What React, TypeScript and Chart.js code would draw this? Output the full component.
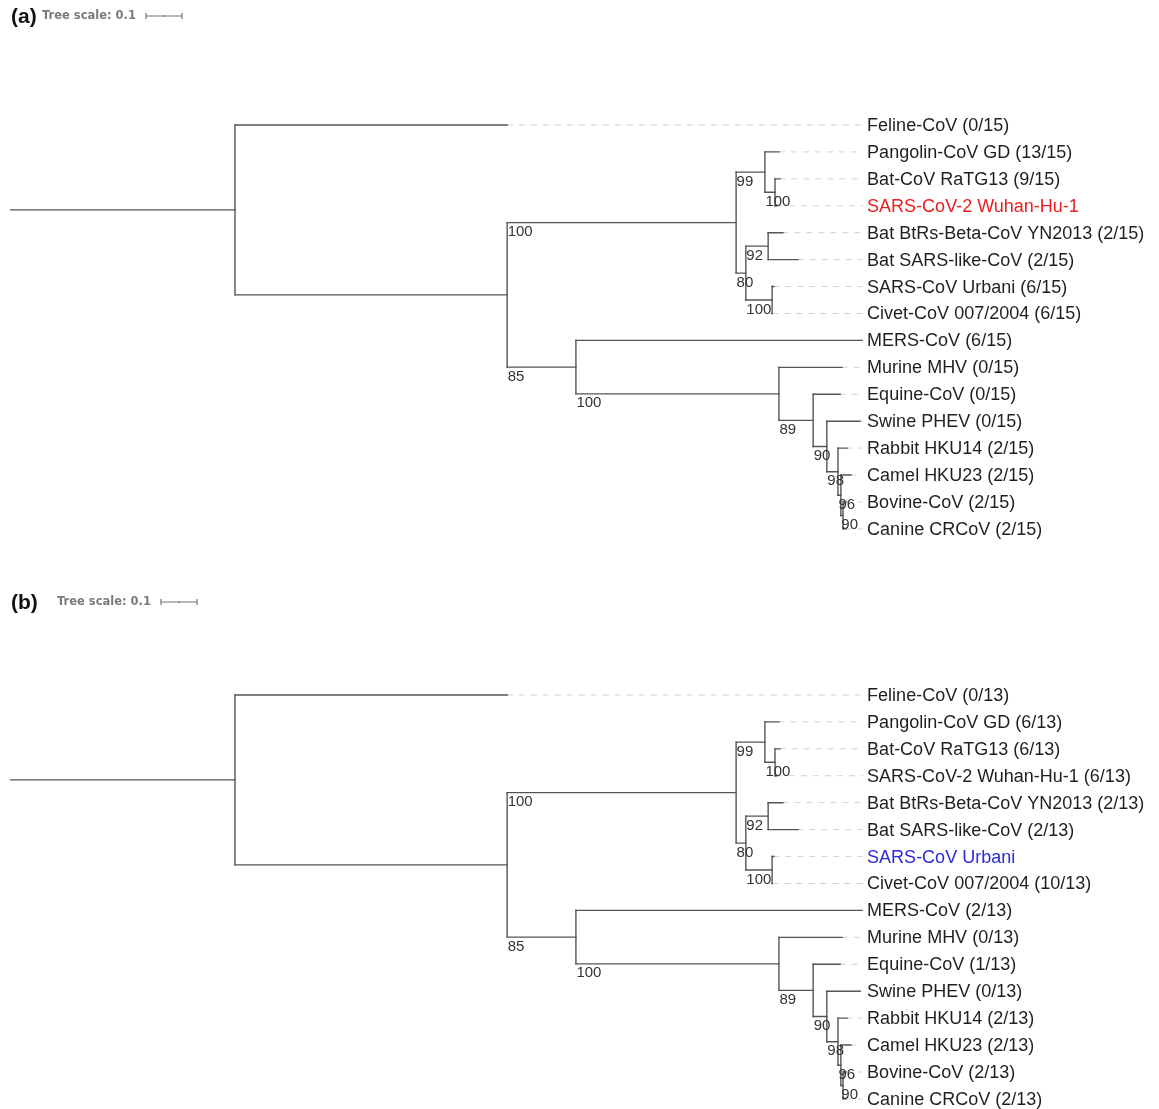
import React, { useEffect, useRef } from "react";
import { Chart, registerables } from "chart.js";
Chart.register(...registerables);

// ---- data ----
const leafNames = [
  "Feline-CoV",
  "Pangolin-CoV GD",
  "Bat-CoV RaTG13",
  "SARS-CoV-2 Wuhan-Hu-1",
  "Bat BtRs-Beta-CoV YN2013",
  "Bat SARS-like-CoV",
  "SARS-CoV Urbani",
  "Civet-CoV 007/2004",
  "MERS-CoV",
  "Murine MHV",
  "Equine-CoV",
  "Swine PHEV",
  "Rabbit HKU14",
  "Camel HKU23",
  "Bovine-CoV",
  "Canine CRCoV",
];
const countsA = ["0/15", "13/15", "9/15", "", "2/15", "2/15", "6/15", "6/15", "6/15", "0/15", "0/15", "0/15", "2/15", "2/15", "2/15", "2/15"];
const countsB = ["0/13", "6/13", "6/13", "6/13", "2/13", "2/13", "", "10/13", "2/13", "0/13", "1/13", "0/13", "2/13", "2/13", "2/13", "2/13"];
const highlightA = "SARS-CoV-2 Wuhan-Hu-1";
const highlightB = "SARS-CoV Urbani";

// distance from root (tree units)
const leafDepth = [1.381, 2.136, 2.139, 2.131, 2.147, 2.189, 2.122, 2.119, 2.367, 2.311, 2.306, 2.361, 2.325, 2.336, 2.322, 2.322];
const leafParent = ["A", "D", "E", "E", "M", "M", "O", "O", "F", "G", "H", "I", "J", "K", "L", "L"];

const nodeIds = ["A", "B", "C", "D", "E", "N", "M", "O", "F", "G", "H", "I", "J", "K", "L"];
const nodeParent = [null, "A", "B", "C", "D", "C", "N", "N", "B", "F", "G", "H", "I", "J", "K"];
const nodeDepth = [0.625, 1.381, 2.017, 2.097, 2.125, 2.044, 2.106, 2.117, 1.572, 2.136, 2.231, 2.269, 2.3, 2.308, 2.314];
const nodeSupport = [null, null, 100, 99, 100, 80, 92, 100, 85, 100, 89, 90, 98, 96, 90];

const treeScaleValue = 0.1;

// ---- tree layout helpers ----
type Item = { id: string; depth: number; parent: string | null; leafIndex?: number };

function layout() {
  const items: Item[] = [];
  nodeIds.forEach((id, i) => items.push({ id, depth: nodeDepth[i], parent: nodeParent[i] }));
  leafNames.forEach((n, i) => items.push({ id: "leaf" + i, depth: leafDepth[i], parent: leafParent[i], leafIndex: i }));
  const children: Record<string, string[]> = {};
  items.forEach((it) => {
    if (it.parent) (children[it.parent] = children[it.parent] || []).push(it.id);
  });
  const byId: Record<string, Item> = {};
  items.forEach((it) => (byId[it.id] = it));
  const yOf: Record<string, number> = {};
  const getY = (id: string): number => {
    if (yOf[id] !== undefined) return yOf[id];
    const it = byId[id];
    let y: number;
    if (it.leafIndex !== undefined) y = it.leafIndex;
    else {
      const ys = (children[id] || []).map(getY);
      y = (Math.min(...ys) + Math.max(...ys)) / 2;
    }
    yOf[id] = y;
    return y;
  };
  items.forEach((it) => getY(it.id));
  return { items, children, byId, yOf };
}

const BRANCH = "#555555";
const GUIDE = "#d2d2d2";

function buildDatasets() {
  const { items, children, byId, yOf } = layout();
  const maxDepth = Math.max(...leafDepth);
  const solid: any[] = [];
  const dashed: any[] = [];
  const seg = (x1: number, y1: number, x2: number, y2: number, dash = false) => ({
    data: [
      { x: x1, y: y1 },
      { x: x2, y: y2 },
    ],
    showLine: true,
    borderColor: dash ? GUIDE : BRANCH,
    borderWidth: dash ? 1 : 1.4,
    borderDash: dash ? [5, 7] : [],
    pointRadius: 0,
    fill: false,
    borderCapStyle: "square",
  });
  items.forEach((it) => {
    const y = yOf[it.id];
    const px = it.parent ? byId[it.parent].depth : 0;
    solid.push(seg(px, y, it.depth, y));
    const ch = children[it.id];
    if (ch && ch.length) {
      const ys = ch.map((c) => yOf[c]);
      solid.push(seg(it.depth, Math.min(...ys), it.depth, Math.max(...ys)));
    }
    if (it.leafIndex !== undefined && it.depth < maxDepth - 0.005) {
      dashed.push(seg(it.depth, y, maxDepth, y, true));
    }
  });
  return { datasets: [...solid, ...dashed], items, byId, yOf, maxDepth };
}

type Panel = {
  letter: string;
  counts: string[];
  highlight: string;
  highlightColor: string;
  letterY: number;
  textX: number;
  padTop: number;
  padBottom: number;
};

function makeChart(canvas: HTMLCanvasElement, panel: Panel) {
  const { datasets, byId, yOf, maxDepth } = buildDatasets();
  const plugin = {
    id: "treeText",
    afterDatasetsDraw(chart: any) {
      const ctx = chart.ctx as CanvasRenderingContext2D;
      const xs = chart.scales.x;
      const ys = chart.scales.y;
      ctx.save();
      // leaf labels
      ctx.textBaseline = "middle";
      ctx.textAlign = "left";
      ctx.font = '18px "Liberation Sans", Arial, sans-serif';
      const lx = xs.getPixelForValue(maxDepth) + 5;
      leafNames.forEach((name, i) => {
        const c = panel.counts[i];
        const txt = c ? `${name} (${c})` : name;
        ctx.fillStyle = name === panel.highlight ? panel.highlightColor : "#1f1f1f";
        ctx.fillText(txt, lx, ys.getPixelForValue(i) + 1);
      });
      // bootstrap values
      ctx.font = '15px "Liberation Sans", Arial, sans-serif';
      ctx.fillStyle = "#333";
      ctx.textBaseline = "top";
      nodeIds.forEach((id, i) => {
        const s = nodeSupport[i];
        const p = nodeParent[i];
        if (s == null || !p) return;
        const x = xs.getPixelForValue(byId[p].depth) + 0.5;
        const y = ys.getPixelForValue(yOf[id]) + 2;
        ctx.fillText(String(s), x, y);
      });
      // header
      ctx.textBaseline = "middle";
      ctx.fillStyle = "#111";
      ctx.font = 'bold 21px "Liberation Sans", Arial, sans-serif';
      ctx.fillText(panel.letter, 11, panel.letterY);
      ctx.font = 'bold 11.5px "DejaVu Sans", Verdana, sans-serif';
      ctx.fillStyle = "#7a7a7a";
      ctx.fillText("Tree scale: " + treeScaleValue, panel.textX, panel.letterY - 1);
      const tw = ctx.measureText("Tree scale: " + treeScaleValue).width;
      const bx1 = panel.textX + tw + 10;
      const bLen = xs.getPixelForValue(treeScaleValue) - xs.getPixelForValue(0);
      const bx2 = bx1 + bLen;
      const by = panel.letterY - 1;
      ctx.strokeStyle = "#777";
      ctx.lineWidth = 1.2;
      ctx.beginPath();
      ctx.moveTo(bx1, by);
      ctx.lineTo(bx2, by);
      ctx.moveTo(bx1, by - 3);
      ctx.lineTo(bx1, by + 3);
      ctx.moveTo(bx2, by - 3);
      ctx.lineTo(bx2, by + 3);
      ctx.moveTo((bx1 + bx2) / 2, by - 1);
      ctx.lineTo((bx1 + bx2) / 2, by + 1);
      ctx.stroke();
      ctx.restore();
    },
  };
  return new Chart(canvas, {
    type: "scatter",
    data: { datasets },
    options: {
      animation: false,
      responsive: false,
      events: [],
      layout: { padding: { left: 10, right: 9, top: panel.padTop, bottom: panel.padBottom } },
      plugins: { legend: { display: false }, tooltip: { enabled: false } },
      scales: {
        x: { type: "linear", display: false, min: 0, max: 3.1667 },
        y: { type: "linear", display: false, reverse: true, min: -0.5, max: 15.3 },
      },
    },
    plugins: [plugin],
  } as any);
}

export default function App() {
  const refA = useRef<HTMLCanvasElement>(null);
  const refB = useRef<HTMLCanvasElement>(null);
  useEffect(() => {
    const a = makeChart(refA.current!, {
      letter: "(a)",
      counts: countsA,
      highlight: highlightA,
      highlightColor: "#e8201f",
      letterY: 17,
      textX: 42,
      padTop: 111.5,
      padBottom: 23,
    });
    const b = makeChart(refB.current!, {
      letter: "(b)",
      counts: countsB,
      highlight: highlightB,
      highlightColor: "#2a2ad8",
      letterY: 33,
      textX: 57,
      padTop: 111.5,
      padBottom: 2,
    });
    return () => {
      a.destroy();
      b.destroy();
    };
  }, []);
  return (
    <div style={{ position: "absolute", left: 0, top: 0, width: 1159, height: 1109, background: "#fff", overflow: "hidden" }}>
      <canvas ref={refA} width={1159} height={560} style={{ position: "absolute", left: 0, top: 0 }} />
      <canvas ref={refB} width={1159} height={539} style={{ position: "absolute", left: 0, top: 570 }} />
    </div>
  );
}
